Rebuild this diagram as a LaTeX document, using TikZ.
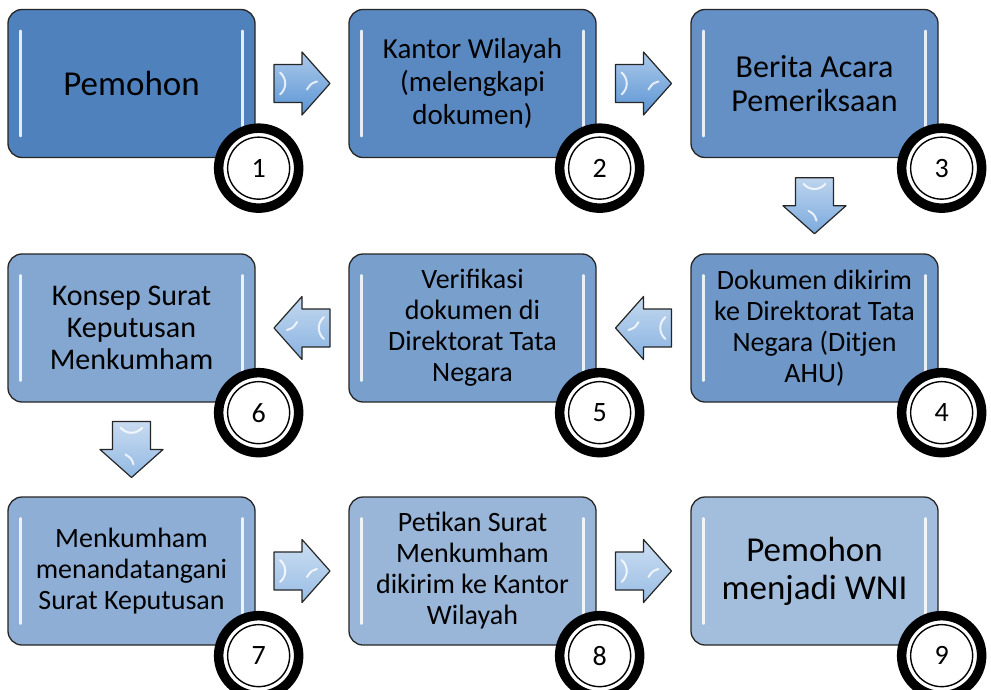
\documentclass[tikz,border=0pt]{standalone}
\usepackage{fontspec}
\setmainfont{Carlito}
\usetikzlibrary{calc}

\definecolor{biru}{HTML}{4F81BD}
\definecolor{panah}{HTML}{5A94D4}

\tikzset{
    box/.style={draw=black!85, line width=1.3pt, rounded corners=14pt,
        minimum width=247pt, minimum height=148pt, inner sep=2pt,
        align=center, font=\fontsize{28}{31}\selectfont},
    big/.style={font=\fontsize{35}{38}\selectfont},
    badge/.style={circle, draw=black, fill=white, line width=9.5pt,
        minimum size=80pt, inner sep=0pt, font=\fontsize{28}{31}\selectfont},
    gloss/.style={white, line width=2.6pt, line cap=round, opacity=0.85},
    pics/blockarrow/.style={code={
        \path[draw=black!85, line width=1.2pt, line join=round,
            top color=#1!50!white, bottom color=#1]
            (-28,-19) -- (0,-19) -- (0,-31.5) -- (28,0) -- (0,31.5) -- (0,19) -- (-28,19) -- cycle;
        \draw[white, line width=2pt, line cap=round, opacity=0.8]
            (-22,-11) .. controls (-15,-5) and (-15,5) .. (-22,11);
        \draw[white, line width=2pt, line cap=round, opacity=0.8]
            (5,6) .. controls (9,0) .. (15,-2);
    }}
}

\begin{document}
\begin{tikzpicture}[x=1pt, y=-1pt]

    % latar
    \fill[white] (0,0) rectangle (991,690);
    \useasboundingbox (0,0) rectangle (991,690);

    % kotak langkah
    \node[box, big, fill=biru] (b1) at (131.5,83.5) {Pemohon};
    \node[box, fill=biru!94!white, font=\fontsize{29}{33}\selectfont] (b2) at (472.5,83.5) {Kantor Wilayah\\(melengkapi\\dokumen)};
    \node[box, fill=biru!88!white, font=\fontsize{32}{34}\selectfont] (b3) at (814.5,83.5) {Berita Acara\\Pemeriksaan};

    \node[box, fill=biru!82!white] (b4) at (814.5,328) {Dokumen dikirim\\ke Direktorat Tata\\Negara (Ditjen\\AHU)};
    \node[box, fill=biru!76!white] (b5) at (472.5,328) {Verifikasi\\dokumen di\\Direktorat Tata\\Negara};
    \node[box, fill=biru!70!white, font=\fontsize{30}{32}\selectfont] (b6) at (131.5,328) {Konsep Surat\\Keputusan\\Menkumham};

    \node[box, fill=biru!64!white] (b7) at (131.5,571) {Menkumham\\menandatangani\\Surat Keputusan};
    \node[box, fill=biru!58!white] (b8) at (472.5,571) {Petikan Surat\\Menkumham\\dikirim ke Kantor\\Wilayah};
    \node[box, big, fill=biru!52!white] (b9) at (814.5,571) {Pemohon\\menjadi WNI};

    % kilap
    \foreach \i in {1,...,9} {
            \draw[gloss] ($(b\i.north west)+(13,22)$) -- ($(b\i.south west)+(13,-22)$);
            \draw[gloss] ($(b\i.north east)+(-13,22)$) -- ($(b\i.south east)+(-13,-22)$);
        }

    % panah
    \pic at ($(b1.east)!0.5!(b2.west)$) {blockarrow=panah};
    \pic at ($(b2.east)!0.5!(b3.west)$) {blockarrow=panah};
    \pic[rotate=-90] at ($(b3.south)!0.5!(b4.north)$) {blockarrow=panah!80!white};
    \pic[rotate=180] at ($(b4.west)!0.5!(b5.east)$) {blockarrow=panah!72!white};
    \pic[rotate=180] at ($(b5.west)!0.5!(b6.east)$) {blockarrow=panah!72!white};
    \pic[rotate=-90] at ($(b6.south)!0.5!(b7.north)$) {blockarrow=panah!66!white};
    \pic at ($(b7.east)!0.5!(b8.west)$) {blockarrow=panah!62!white};
    \pic at ($(b8.east)!0.5!(b9.west)$) {blockarrow=panah!62!white};

    % nomor
    \foreach \i in {1,...,9} {
            \node[badge] (c\i) at ($(b\i.south east)+(3,10)$) {\i};
            \draw[black, line width=1.4pt] (c\i.center) circle (31pt);
        }

\end{tikzpicture}
\end{document}
